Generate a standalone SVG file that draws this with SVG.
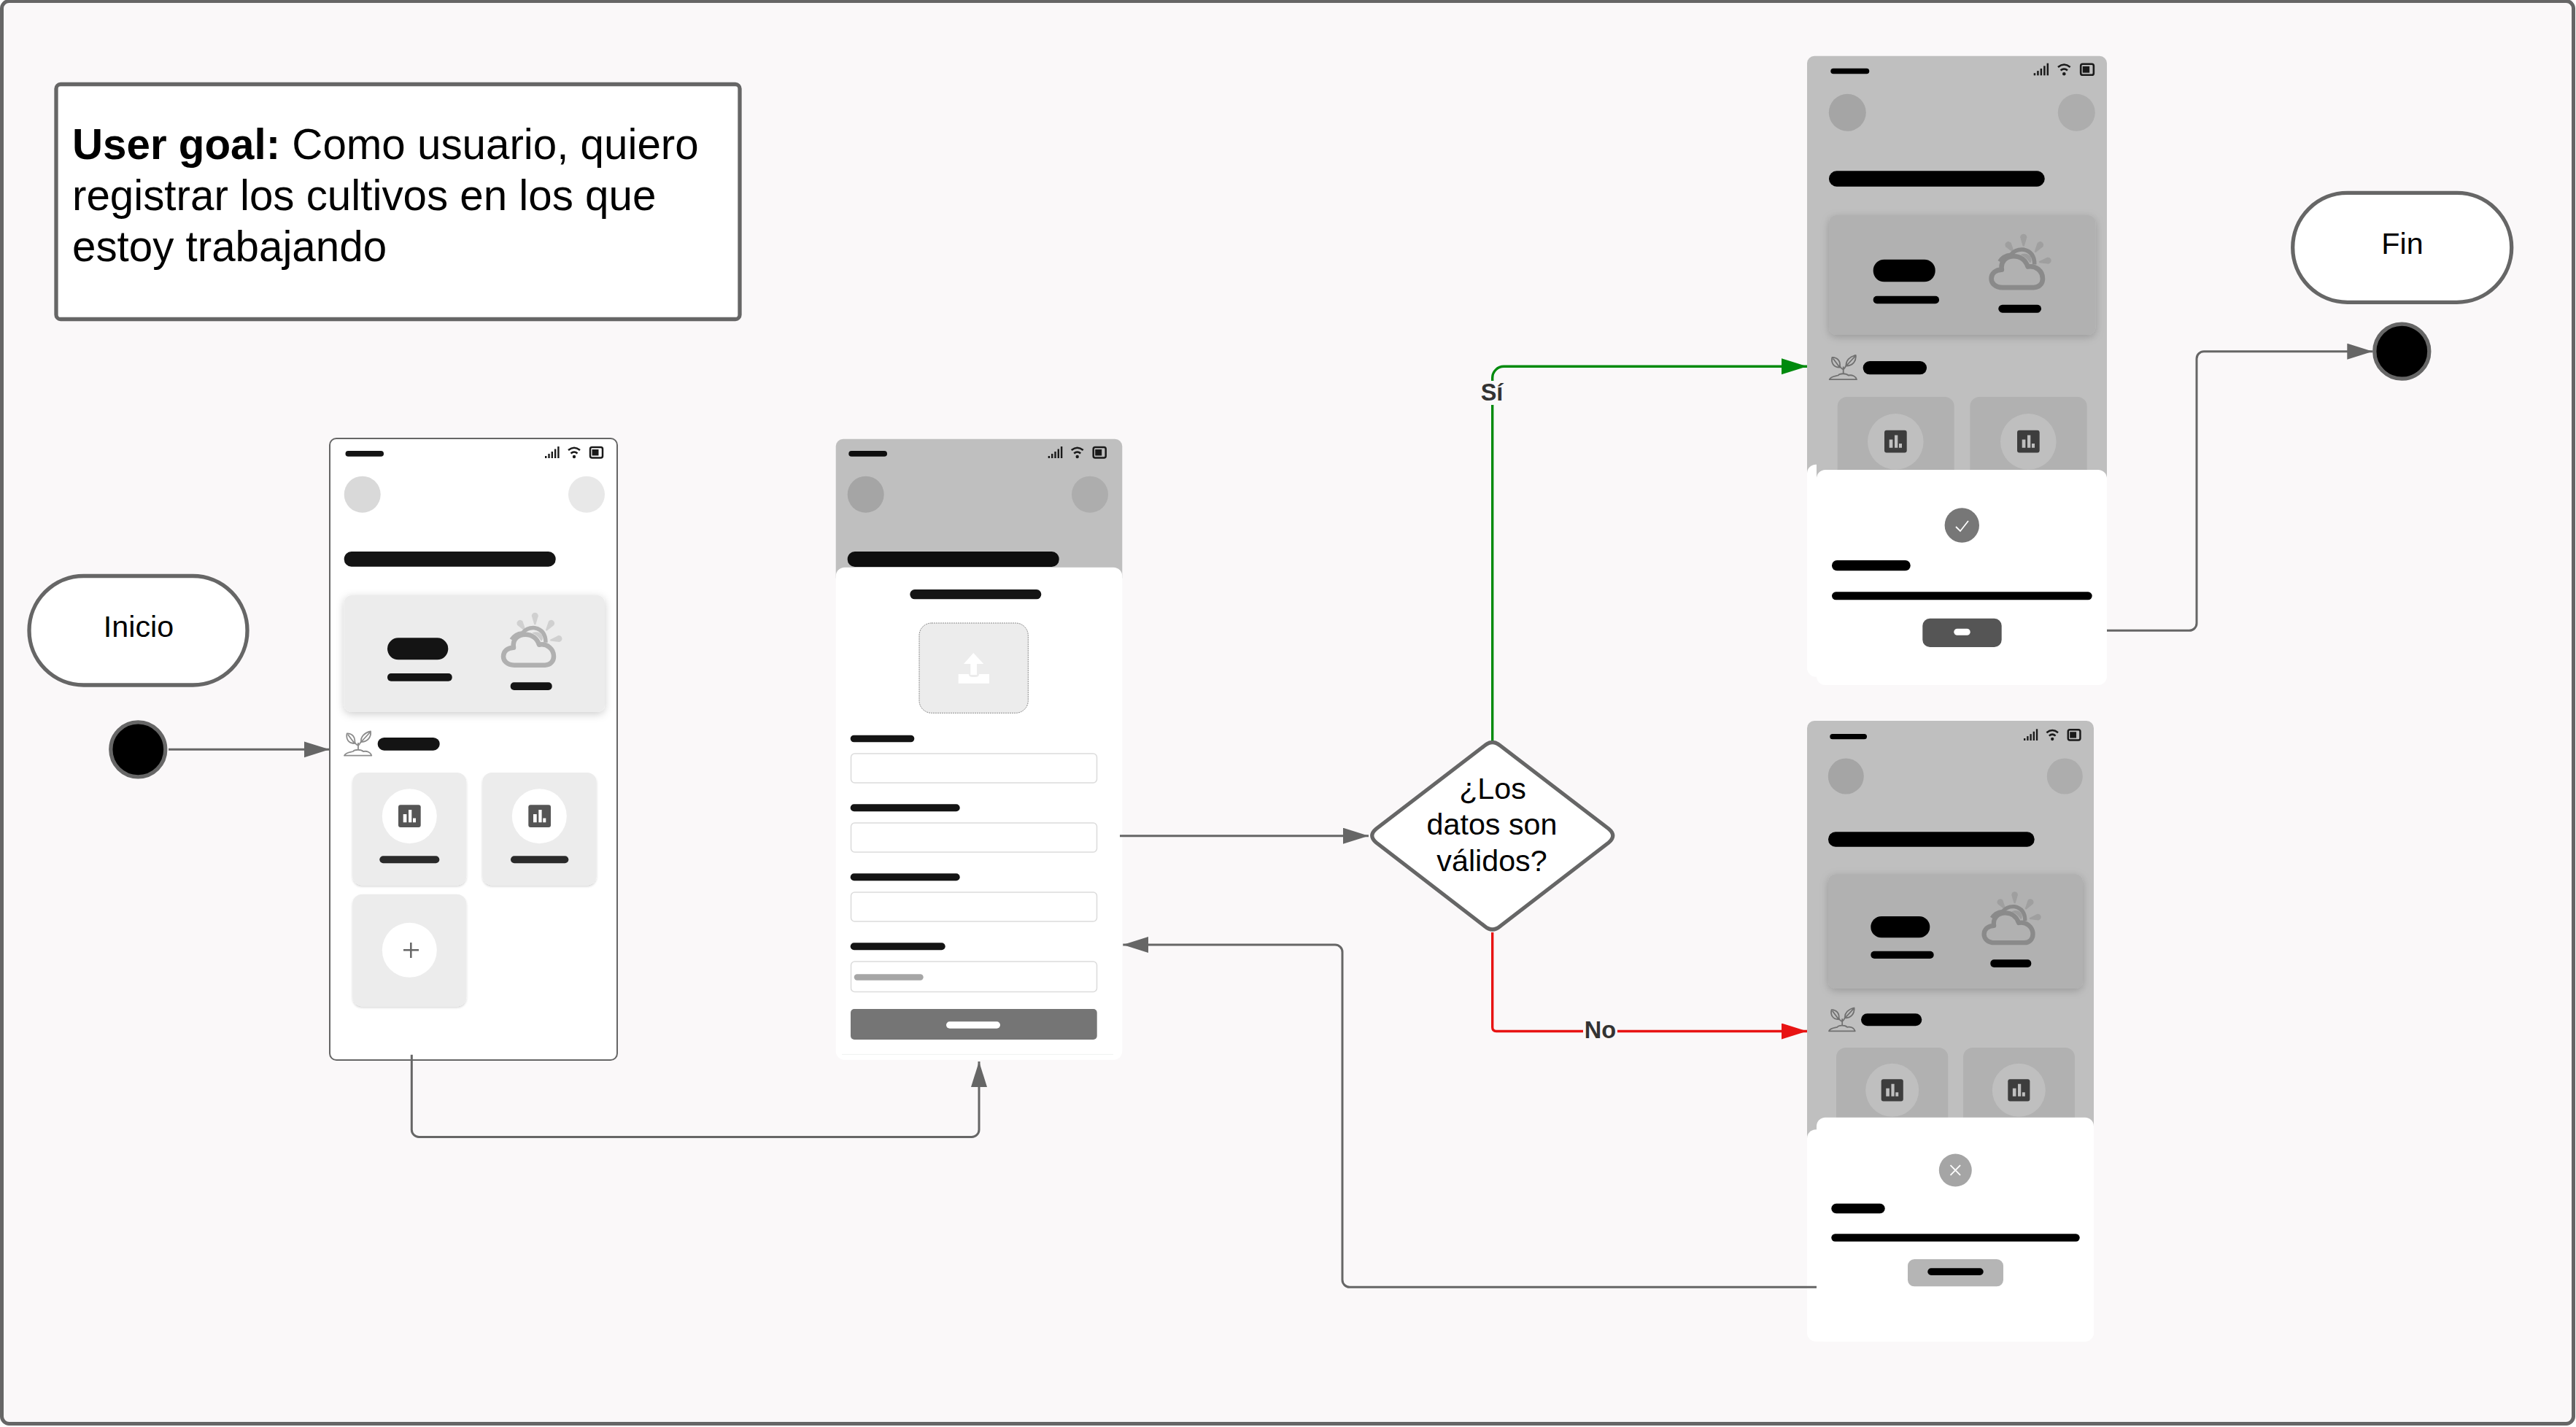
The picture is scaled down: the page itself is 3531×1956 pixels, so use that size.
<svg xmlns="http://www.w3.org/2000/svg" xmlns:xlink="http://www.w3.org/1999/xlink" width="3531" height="1956" viewBox="0 0 3531 1956">
<style>
text{font-family:"Liberation Sans",Arial,sans-serif;fill:#000}
.t{font-size:41.25px;text-anchor:middle}
.lbl{font-size:32.5px;font-weight:bold;fill:#333;text-anchor:middle}
.goal{font-size:58.3px}
.shape{fill:#fff;stroke:#666;stroke-width:5.3}
.dot{fill:#000;stroke:#666;stroke-width:5.3}
.c{fill:none;stroke:#666;stroke-width:3}
.green{fill:none;stroke:#008a0e;stroke-width:3.4}
.red{fill:none;stroke:#e81313;stroke-width:3.4}
.ink{fill:#141414}
.inkd{fill:#000}
.field{fill:#fff;stroke:#dcdcdc;stroke-width:1.6}
.tile{fill:#ececec}
.tiled{fill:#b1b1b1}
.dim{fill:#bfbfbf}
</style>
<defs>
<filter id="sh" x="-15%" y="-20%" width="130%" height="145%"><feDropShadow dx="0" dy="3" stdDeviation="6" flood-color="#000" flood-opacity=".2"/></filter>
<filter id="shs" x="-10%" y="-10%" width="120%" height="120%"><feDropShadow dx="0" dy="2" stdDeviation="1.6" flood-color="#000" flood-opacity=".16"/></filter>
<clipPath id="c3"><rect x="2490" y="230" width="398" height="270"/></clipPath>
<clipPath id="c4"><rect x="2490" y="1150" width="380" height="240"/></clipPath>
<marker id="ag" markerUnits="userSpaceOnUse" markerWidth="36" markerHeight="24" refX="35" refY="11" orient="auto"><path d="M0 0L35 11L0 22Z" fill="#666"/></marker>
<marker id="ak" markerUnits="userSpaceOnUse" markerWidth="36" markerHeight="24" refX="35" refY="11" orient="auto"><path d="M0 0L35 11L0 22Z" fill="#008a0e"/></marker>
<marker id="ar" markerUnits="userSpaceOnUse" markerWidth="36" markerHeight="24" refX="35" refY="11" orient="auto"><path d="M0 0L35 11L0 22Z" fill="#e81313"/></marker>
<g id="status">
<g fill="#1a1a1a"><rect x="0" y="13" width="2.4" height="3"/><rect x="4.3" y="10" width="2.4" height="6"/><rect x="8.6" y="7" width="2.4" height="9"/><rect x="12.9" y="3.5" width="2.4" height="12.5"/><rect x="17.2" y="0" width="2.4" height="16"/></g>
<path d="M32 5Q40-1.500 48 5M35.500 9.500Q40 5.500 44.500 9.500" fill="none" stroke="#1a1a1a" stroke-width="2.500"/><circle cx="40" cy="14" r="2.200" fill="#1a1a1a"/>
<rect x="62" y="1" width="17" height="14.500" rx="2.500" fill="none" stroke="#1a1a1a" stroke-width="2.500"/><rect x="64.500" y="4" width="9" height="8.500" fill="#1a1a1a"/>
</g>
<g id="cloud">
<path d="M19 71C9 71 4 65 4 59C4 52 10 47 18 47C16 36 24 29 34 29C43 29 50 34 53 43C64 41 73 49 73 59C73 66 68 71 61 71Z" fill="none" stroke="currentColor" stroke-width="6.500" stroke-linejoin="round"/>
<path d="M15 36Q20 28 30 27Q37 19 47 20Q62 23 62 40" fill="none" stroke="currentColor" stroke-width="5.500"/>
<path d="M43 27Q52 23 57 30Q59 36 56 38Q51 30 43 27Z" fill="currentColor" opacity=".55"/>
<g fill="currentColor" opacity=".45"><path id="ray" transform="translate(47.300 4.500)" d="M-4.500-1A4.500 4.500 0 0 1 4.500-1L1 11H-1Z"/><path transform="translate(27.500 14.500) rotate(-35)" d="M-4.500-1A4.500 4.500 0 0 1 4.500-1L1 11H-1Z"/><path transform="translate(69 14.500) rotate(35)" d="M-4.500-1A4.500 4.500 0 0 1 4.500-1L1 11H-1Z"/><path transform="translate(79 35) rotate(80)" d="M-4.500-1A4.500 4.500 0 0 1 4.500-1L1 11H-1Z"/></g>
</g>
<g id="plant" fill="none" stroke="currentColor" stroke-width="1.800" stroke-linejoin="round">
<path d="M20 26V16M20 20Q16 18 15 15M20 20Q23 17 24 14"/>
<path d="M15 17C6 17 3 10 4.700 3.300C11 3 17 8 15 17ZM6 5L15 17"/>
<path d="M24 15C23 8 29 2 37 .5C38 8 33 15 24 15ZM36 2L24 15"/>
<path d="M1 33.700C3 29 9 29 13 28C15 25 24 25 27 28C32 27 37 29 38.300 33.700Z"/>
</g>
<g id="chart"><rect width="30.700" height="30.700" rx="3" fill="currentColor"/></g>
<path id="bars" d="M6.700 12.700h4.700v11.300h-4.700zM14 6.700h4.300v17.300h-4.300zM20 18.300h4v5.700h-4z"/>
</defs>

<rect width="3531" height="1956" fill="#fff"/>
<rect id="frame" x="2.500" y="1.500" width="3525" height="1950" rx="10" fill="#faf8f9" stroke="#666" stroke-width="5"/>

<g id="user-goal">
<rect x="77" y="115.500" width="937" height="322" rx="6" fill="#fff" stroke="#666" stroke-width="5.300"/>
<text class="goal" x="99" y="218"><tspan font-weight="bold">User goal:</tspan> Como usuario, quiero</text>
<text class="goal" x="99" y="288">registrar los cultivos en los que</text>
<text class="goal" x="99" y="358">estoy trabajando</text>
</g>

<g id="inicio"><rect class="shape" x="40" y="789.500" width="299" height="149.500" rx="74.700"/><text class="t" x="190" y="873">Inicio</text></g>
<g id="start"><circle class="dot" cx="189.300" cy="1027.300" r="37.500"/></g>
<g id="fin"><rect class="shape" x="3142.700" y="264.300" width="300" height="150" rx="75"/><text class="t" x="3293" y="347.700">Fin</text></g>
<g id="end"><circle class="dot" cx="3292.300" cy="481.700" r="37.500"/></g>
<g id="decision">
<path class="shape" d="M2035 1022Q2045.700 1013 2056.400 1022L2205 1136Q2216.500 1145.500 2205 1155L2056.400 1269.500Q2045.700 1278.500 2035 1269.500L1886.500 1155Q1875 1145.500 1886.500 1136Z"/>
<text class="t" x="2046" y="1095">¿Los</text><text class="t" x="2045" y="1144">datos son</text><text class="t" x="2045" y="1194">válidos?</text>
</g>

<g id="screen-home">
<rect x="452" y="601" width="394" height="852" rx="9" fill="#fff" stroke="#666" stroke-width="2"/>
<rect class="ink" x="473.500" y="618" width="52.500" height="7.700" rx="3.800"/>
<use href="#status" x="747" y="612"/>
<circle cx="496.700" cy="677.700" r="25" fill="#d9d9d9"/><circle cx="804" cy="677.700" r="25" fill="#e8e8e8"/>
<rect class="ink" x="471.700" y="756" width="290" height="20.700" rx="10"/>
<rect x="471.700" y="816" width="357.300" height="159.700" rx="10" class="tile" filter="url(#sh)"/>
<rect class="ink" x="531" y="874.300" width="83.300" height="30" rx="15"/><rect class="ink" x="531" y="923" width="88.700" height="10.700" rx="5"/><rect class="ink" x="699.700" y="935.300" width="57" height="10.700" rx="5"/>
<use href="#cloud" x="686" y="840.700" color="#b0b0b0"/>
<use href="#plant" x="471" y="1002" color="#8c8c8c"/>
<rect class="ink" x="517.700" y="1011" width="85" height="17.700" rx="8.800"/>
<rect class="tile" x="483.300" y="1059" width="156" height="154.300" rx="13" filter="url(#shs)"/>
<rect class="tile" x="661.300" y="1059" width="156.400" height="154.300" rx="13" filter="url(#shs)"/>
<rect class="tile" x="483.300" y="1225.700" width="156" height="153.600" rx="13" filter="url(#shs)"/>
<circle cx="561.300" cy="1118.700" r="37.500" fill="#fff"/><circle cx="739.300" cy="1118.700" r="37.500" fill="#fff"/><circle cx="561.300" cy="1302.300" r="37.500" fill="#fff"/>
<use href="#chart" x="546" y="1103.300" color="#555"/><use href="#bars" x="546" y="1103.300" fill="#fff"/>
<use href="#chart" x="724.300" y="1103.300" color="#555"/><use href="#bars" x="724.300" y="1103.300" fill="#fff"/>
<rect x="520.300" y="1173.300" width="82" height="10" rx="5" fill="#2a2a2a"/><rect x="700" y="1173.300" width="79.300" height="10" rx="5" fill="#2a2a2a"/>
<path d="M553 1302.300h21M563.300 1292v21" fill="none" stroke="#666" stroke-width="2.500"/>
</g>

<g id="screen-form">
<rect class="dim" x="1145.700" y="601.700" width="392.600" height="200" rx="10"/>
<rect x="1163.300" y="618" width="52.700" height="7.700" rx="3.800" fill="#0e0e0e"/>
<use href="#status" x="1436.700" y="612"/>
<circle cx="1186.700" cy="677.700" r="25" fill="#a5a5a5"/><circle cx="1494" cy="677.700" r="25" fill="#adadad"/>
<rect x="1161.700" y="756" width="290" height="21" rx="10" fill="#0e0e0e"/>
<rect x="1145.700" y="777.700" width="392.600" height="675" rx="12" fill="#fff"/>
<path d="M1154 1445.300H1526" stroke="#eef1ef" stroke-width="1"/>
<rect class="ink" x="1247.300" y="808" width="180" height="13.300" rx="6.500"/>
<rect x="1260" y="854" width="149.300" height="123.300" rx="17" fill="#ececec" stroke="#8a8a8a" stroke-width="1" stroke-dasharray="2 1"/>
<path d="M1334.300 895L1348.300 910H1339V925H1330.300V910H1321Z" fill="#fff"/>
<path d="M1313.700 924H1328Q1328 928 1333 928H1337Q1342 928 1342 924H1356V936.700H1313.700Z" fill="#fff"/>
<rect class="ink" x="1165.700" y="1007.700" width="87.600" height="9.600" rx="4.800"/>
<rect class="field" x="1166.500" y="1033" width="337" height="40" rx="5"/>
<rect class="ink" x="1165.700" y="1102.300" width="150" height="10" rx="5"/>
<rect class="field" x="1166.500" y="1128" width="337" height="40" rx="5"/>
<rect class="ink" x="1165.700" y="1197.300" width="150" height="10" rx="5"/>
<rect class="field" x="1166.500" y="1223" width="337" height="40" rx="5"/>
<rect class="ink" x="1165.700" y="1292.300" width="130" height="10" rx="5"/>
<rect class="field" x="1166.500" y="1318" width="337" height="41.500" rx="5"/>
<rect x="1170.700" y="1335.300" width="95" height="8.400" rx="4.200" fill="#a6a6a6"/>
<rect x="1166" y="1383" width="337.700" height="42" rx="5" fill="#757575"/>
<rect x="1297" y="1400.300" width="74" height="9.400" rx="4.700" fill="#fff"/>
</g>

<g id="screen-success">
<rect class="dim" x="2477" y="76.700" width="411" height="600" rx="10"/>
<rect class="inkd" x="2509.300" y="93.700" width="53" height="7.600" rx="3.800"/>
<use href="#status" transform="translate(2787.700 86.700) scale(1.040)"/>
<circle cx="2532.300" cy="154.300" r="25.500" fill="#a5a5a5"/><circle cx="2846.300" cy="154.300" r="25.500" fill="#adadad"/>
<rect class="inkd" x="2507" y="234.300" width="295.700" height="21.400" rx="10.500"/>
<g clip-path="url(#c3)"><rect x="2507" y="295" width="365.300" height="164" rx="10" class="tiled" filter="url(#sh)"/></g>
<rect class="inkd" x="2567.700" y="355.700" width="85" height="30.600" rx="15"/><rect class="inkd" x="2567.700" y="405.700" width="90.300" height="10.600" rx="5"/><rect class="inkd" x="2739.300" y="417.700" width="58.700" height="11" rx="5.500"/>
<use href="#cloud" transform="translate(2725.500 321.700) scale(1.020)" color="#8a8a8a"/>
<use href="#plant" x="2506.700" y="486.500" color="#707070"/>
<rect class="inkd" x="2553.700" y="495" width="87.300" height="18.300" rx="9"/>
<rect class="tiled" x="2518.700" y="544" width="160" height="120" rx="13"/><rect class="tiled" x="2700.300" y="544" width="160.400" height="120" rx="13"/>
<circle cx="2598.300" cy="605.300" r="38.300" fill="#bfbfbf"/><circle cx="2780.300" cy="605.300" r="38.300" fill="#bfbfbf"/>
<use href="#chart" x="2583" y="589.700" color="#3d3d3d"/><use href="#bars" x="2583" y="589.700" fill="#bfbfbf"/>
<use href="#chart" x="2765" y="589.700" color="#3d3d3d"/><use href="#bars" x="2765" y="589.700" fill="#bfbfbf"/>
<path d="M2490 636.700H2489A12 12 0 0 0 2477 648.700V915.700A12 12 0 0 0 2489 927.700H2500V660H2490Z" fill="#fff"/>
<rect x="2490" y="644" width="398" height="295" rx="12" fill="#fff"/>
<circle cx="2689.300" cy="720" r="23.700" fill="#777"/>
<path d="M2681 722L2687 728L2698 714" fill="none" stroke="#fff" stroke-width="1.800"/>
<rect class="inkd" x="2511" y="768" width="107.700" height="14.300" rx="7"/>
<rect class="inkd" x="2511" y="811.300" width="356.700" height="11" rx="5.500"/>
<rect x="2635.300" y="847.700" width="108.400" height="39.300" rx="10" fill="#555"/>
<rect x="2678.300" y="861.700" width="22.400" height="9" rx="4.500" fill="#fff"/>
</g>

<g id="screen-error">
<rect class="dim" x="2477" y="988" width="393" height="600" rx="10"/>
<rect class="inkd" x="2508.300" y="1006" width="50.700" height="7.300" rx="3.600"/>
<use href="#status" transform="translate(2774 999.300) scale(.98)"/>
<circle cx="2530.300" cy="1064" r="24.500" fill="#a5a5a5"/><circle cx="2830.300" cy="1064" r="24.500" fill="#adadad"/>
<rect class="inkd" x="2506" y="1140.300" width="282.700" height="20.400" rx="10"/>
<g clip-path="url(#c4)"><rect x="2506" y="1198.300" width="349" height="156.700" rx="10" class="tiled" filter="url(#sh)"/></g>
<rect class="inkd" x="2564.300" y="1256" width="81" height="29.300" rx="14.600"/><rect class="inkd" x="2564.300" y="1303.700" width="86.400" height="10.300" rx="5"/><rect class="inkd" x="2728.300" y="1315.300" width="56" height="10.700" rx="5"/>
<use href="#cloud" transform="translate(2715.700 1223.300) scale(.970)" color="#8a8a8a"/>
<use href="#plant" transform="translate(2506 1381) scale(.960)" color="#707070"/>
<rect class="inkd" x="2551" y="1389.300" width="83.300" height="17" rx="8.500"/>
<rect class="tiled" x="2517" y="1436" width="153.300" height="120" rx="13"/><rect class="tiled" x="2691" y="1436" width="153" height="120" rx="13"/>
<circle cx="2593.700" cy="1494.300" r="36.500" fill="#bfbfbf"/><circle cx="2767.300" cy="1494.300" r="36.500" fill="#bfbfbf"/>
<use href="#chart" transform="translate(2578.700 1479.300) scale(.980)" color="#3d3d3d"/><use href="#bars" transform="translate(2578.700 1479.300) scale(.980)" fill="#bfbfbf"/>
<use href="#chart" transform="translate(2752.300 1479.300) scale(.980)" color="#3d3d3d"/><use href="#bars" transform="translate(2752.300 1479.300) scale(.980)" fill="#bfbfbf"/>
<rect x="2490" y="1531.700" width="380" height="307" rx="12" fill="#fff"/>
<rect x="2477" y="1548.300" width="393" height="290.400" rx="12" fill="#fff"/>
<circle cx="2680.300" cy="1604" r="22.500" fill="#a5a5a5"/>
<path d="M2673.500 1597.200L2687.100 1610.800M2687.100 1597.200L2673.500 1610.800" fill="none" stroke="#fff" stroke-width="1.800"/>
<rect class="inkd" x="2510.300" y="1649.700" width="73.400" height="13.600" rx="6.800"/>
<rect class="inkd" x="2510.300" y="1691.300" width="340.400" height="10.400" rx="5.200"/>
<rect x="2615" y="1726" width="131" height="37.300" rx="9" fill="#b5b5b5"/>
<rect class="inkd" x="2642.300" y="1738.300" width="76.400" height="9.700" rx="4.800"/>
</g>

<g id="connectors">
<path class="c" d="M231 1027.300H451.700" marker-end="url(#ag)"/>
<path class="c" d="M564.300 1445.700V1548.400a10 10 0 0 0 10 10H1332a10 10 0 0 0 10-10V1455" marker-end="url(#ag)"/>
<path class="c" d="M1535 1145.700H1876" marker-end="url(#ag)"/>
<path class="c" d="M2490 1764.300H1850a10 10 0 0 1-10-10V1305a10 10 0 0 0-10-10H1539.300" marker-end="url(#ag)"/>
<path class="c" d="M2888 864.300H3001a10 10 0 0 0 10-10V491.700a10 10 0 0 1 10-10H3252.300" marker-end="url(#ag)"/>
<path class="green" d="M2045.700 1015V518a15.700 15.700 0 0 1 15.700-15.700H2477" marker-end="url(#ak)"/>
<path class="red" d="M2045.700 1278V1408Q2045.700 1413.500 2051 1413.500H2477" marker-end="url(#ar)"/>
<rect x="2026" y="522" width="40" height="33" fill="#faf8f9"/>
<text class="lbl" x="2045" y="549">Sí</text>
<rect x="2170" y="1396" width="47" height="32" fill="#faf8f9"/>
<text class="lbl" x="2193.500" y="1423">No</text>
</g>
</svg>
